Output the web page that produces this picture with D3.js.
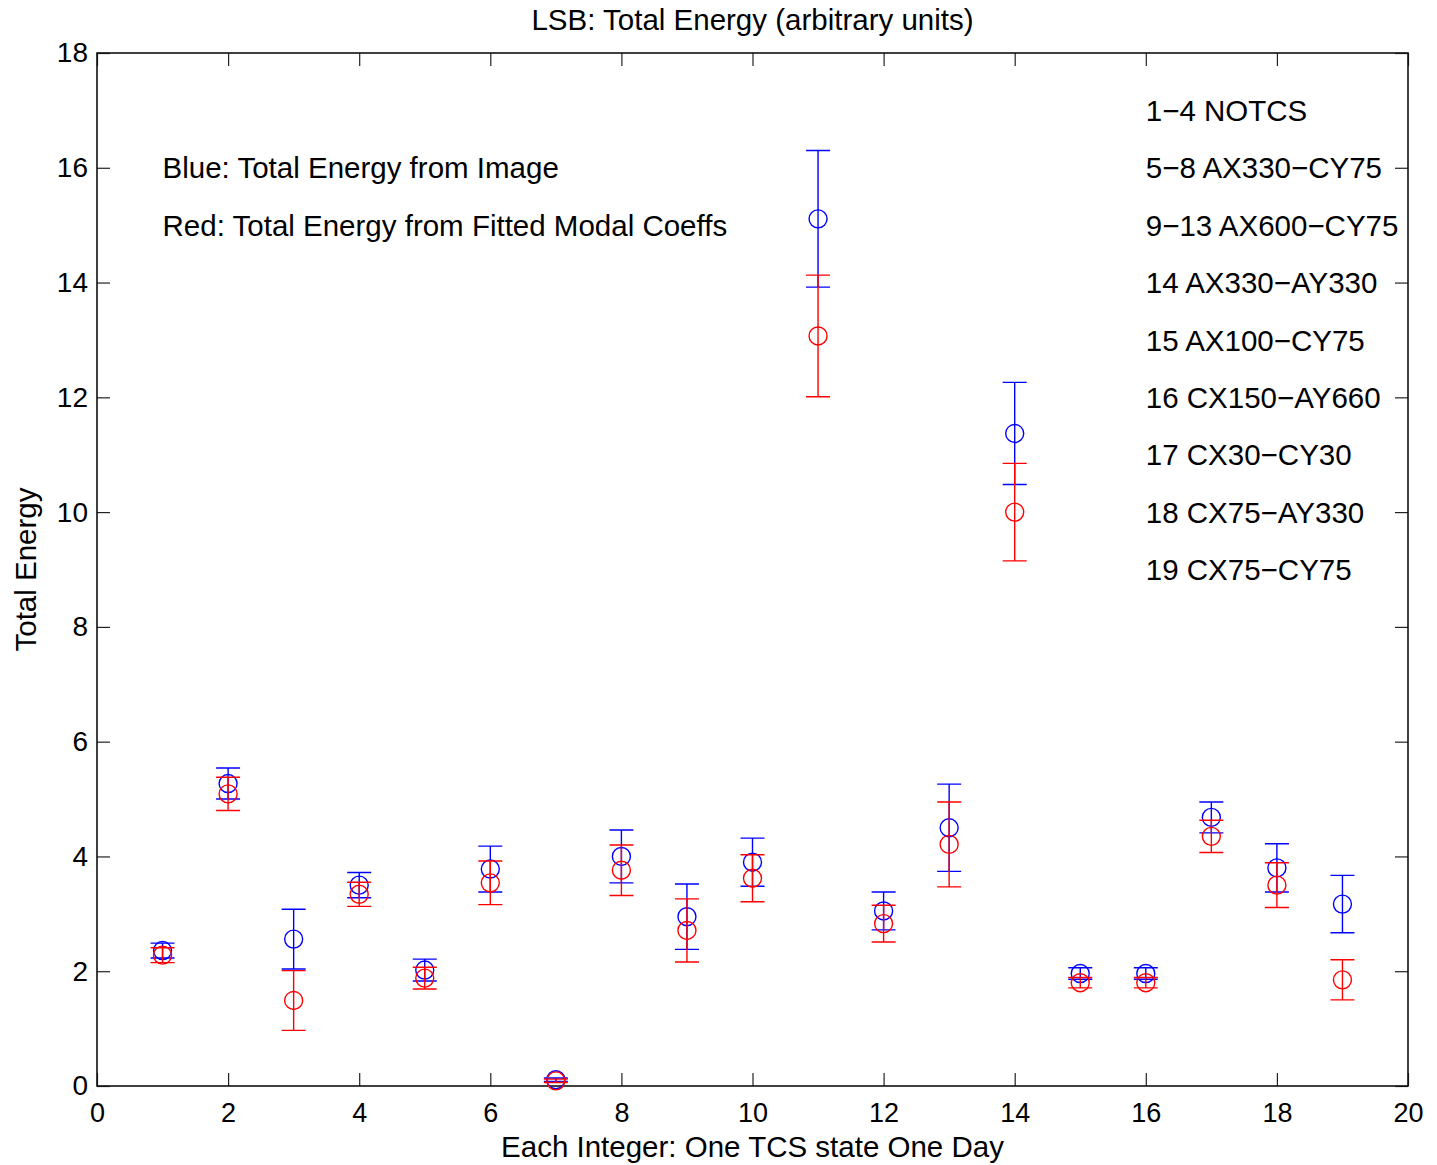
<!DOCTYPE html>
<html>
<head>
<meta charset="utf-8">
<script src="https://cdnjs.cloudflare.com/ajax/libs/d3/7.8.5/d3.min.js"></script>
<style>
  body { margin: 0; background: white; }
  text { font-family: "Liberation Sans", Arial, Helvetica, sans-serif; fill: black; }
</style>
</head>
<body>
<div id="chart"></div>
<script>
// x positions: one TCS state per day
var days = [1, 2, 3, 4, 5, 6, 7, 8, 9, 10, 11, 12, 13, 14, 15, 16, 17, 18, 19];

// total energy from image (blue) and its error
var imageEnergy = [2.36, 5.27, 2.56, 3.50, 2.02, 3.78, 0.11, 4.00, 2.95, 3.90, 15.11, 3.05, 4.50, 11.37, 1.96, 1.96, 4.68, 3.80, 3.17];
var imageErr    = [0.13, 0.27, 0.52, 0.22, 0.19, 0.40, 0.03, 0.46, 0.57, 0.42, 1.19, 0.33, 0.76, 0.89, 0.10, 0.10, 0.27, 0.42, 0.50];

// total energy from fitted modal coeffs (red) and its error
var modalEnergy = [2.28, 5.09, 1.49, 3.34, 1.88, 3.54, 0.09, 3.76, 2.71, 3.62, 13.07, 2.83, 4.21, 10.00, 1.80, 1.80, 4.35, 3.50, 1.85];
var modalErr    = [0.13, 0.29, 0.52, 0.21, 0.19, 0.38, 0.03, 0.44, 0.55, 0.41, 1.06, 0.32, 0.74, 0.85, 0.09, 0.09, 0.28, 0.39, 0.35];

var xTicks = [0, 2, 4, 6, 8, 10, 12, 14, 16, 18, 20];
var yTicks = [0, 2, 4, 6, 8, 10, 12, 14, 16, 18];

var stateLabels = ["1\u22124 NOTCS", "5\u22128 AX330\u2212CY75", "9\u221213 AX600\u2212CY75",
                   "14 AX330\u2212AY330", "15 AX100\u2212CY75", "16 CX150\u2212AY660",
                   "17 CX30\u2212CY30", "18 CX75\u2212AY330", "19 CX75\u2212CY75"];
var stateLabelY = [17, 16, 15, 14, 13, 12, 11, 10, 9];
var noteLabels = ["Blue: Total Energy from Image", "Red: Total Energy from Fitted Modal Coeffs"];
var noteLabelY = [16, 15];

var W = 1437, H = 1165;
var margin = {top: 53, right: 29, bottom: 79, left: 97},
    width = W - margin.left - margin.right,
    height = H - margin.top - margin.bottom;

var x = d3.scaleLinear().domain([0, 20]).range([0, width]);
var y = d3.scaleLinear().domain([0, 18]).range([height, 0]);

var svg = d3.select("#chart").append("svg")
    .attr("width", W)
    .attr("height", H);

var g = svg.append("g")
    .attr("transform", "translate(" + margin.left + "," + margin.top + ")");

var fs = 29.5, tick = 13, cap = 12, r = 9;

// ticks inward on all four sides
g.append("g")
    .attr("transform", "translate(0," + height + ")")
    .call(d3.axisBottom(x).tickValues(xTicks).tickSize(-tick).tickPadding(tick + 4).tickSizeOuter(0))
    .call(function(a) {
        a.select(".domain").remove();
        a.selectAll("text").style("font-size", "27px");
    });
g.append("g")
    .call(d3.axisTop(x).tickValues(xTicks).tickSize(-tick).tickFormat("").tickSizeOuter(0))
    .call(function(a) { a.select(".domain").remove(); });
g.append("g")
    .call(d3.axisLeft(y).tickValues(yTicks).tickSize(-tick).tickPadding(9).tickSizeOuter(0))
    .call(function(a) {
        a.select(".domain").remove();
        a.selectAll("text").style("font-size", "28px");
    });
g.append("g")
    .attr("transform", "translate(" + width + ",0)")
    .call(d3.axisRight(y).tickValues(yTicks).tickSize(-tick).tickFormat("").tickSizeOuter(0))
    .call(function(a) { a.select(".domain").remove(); });

g.selectAll(".tick line").attr("stroke", "#222").attr("stroke-width", 1.2);

g.append("rect")
    .attr("width", width)
    .attr("height", height)
    .attr("fill", "none")
    .attr("stroke", "#111")
    .attr("stroke-width", 1.6);

function drawSeries(vals, errs, color) {
    var s = g.append("g").attr("stroke", color).attr("stroke-width", 1.4).attr("fill", "none");
    var pts = days.map(function(d, i) { return [d, vals[i], errs[i]]; });
    s.selectAll(".bar").data(pts).enter().append("path")
        .attr("d", function(d) {
            var px = x(d[0]), hi = y(d[1] + d[2]), lo = y(d[1] - d[2]);
            return "M" + px + "," + hi + "V" + lo +
                   "M" + (px - cap) + "," + hi + "H" + (px + cap) +
                   "M" + (px - cap) + "," + lo + "H" + (px + cap);
        });
    s.selectAll("circle").data(pts).enter().append("circle")
        .attr("cx", function(d) { return x(d[0]); })
        .attr("cy", function(d) { return y(d[1]); })
        .attr("r", r);
}

drawSeries(imageEnergy, imageErr, "#0000ff");
drawSeries(modalEnergy, modalErr, "#ff0000");

// annotations placed in data coordinates
g.selectAll(".state").data(stateLabels).enter().append("text")
    .attr("x", x(16))
    .attr("y", function(d, i) { return y(stateLabelY[i]); })
    .attr("dy", "0.36em")
    .style("font-size", fs + "px")
    .text(function(d) { return d; });

g.selectAll(".note").data(noteLabels).enter().append("text")
    .attr("x", x(1))
    .attr("y", function(d, i) { return y(noteLabelY[i]); })
    .attr("dy", "0.36em")
    .style("font-size", fs + "px")
    .text(function(d) { return d; });

svg.append("text")
    .attr("x", margin.left + width / 2)
    .attr("y", 30)
    .attr("text-anchor", "middle")
    .style("font-size", fs + "px")
    .text("LSB: Total Energy (arbitrary units)");

svg.append("text")
    .attr("x", margin.left + width / 2)
    .attr("y", 1157)
    .attr("text-anchor", "middle")
    .style("font-size", fs + "px")
    .text("Each Integer: One TCS state One Day");

svg.append("text")
    .attr("transform", "translate(36," + (margin.top + height / 2) + ") rotate(-90)")
    .attr("text-anchor", "middle")
    .style("font-size", fs + "px")
    .text("Total Energy");
</script>
</body>
</html>
